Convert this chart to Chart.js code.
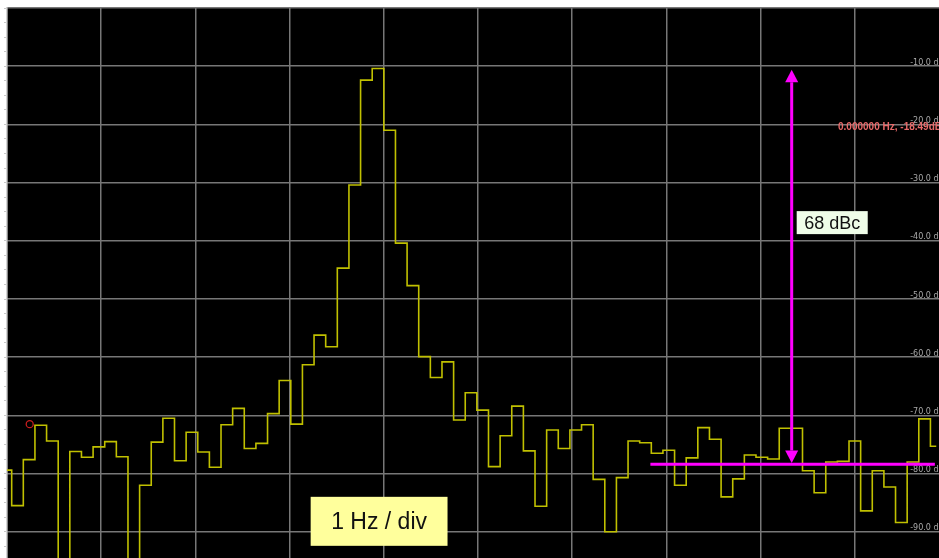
<!DOCTYPE html>
<html>
<head>
<meta charset="utf-8">
<script src="https://cdn.jsdelivr.net/npm/chart.js@4.4.1/dist/chart.umd.min.js"></script>
<style>
  html, body { margin: 0; padding: 0; background: #fff; overflow: hidden; }
  #wrap { position: absolute; left: 0; top: 0; width: 960px; height: 600px; }
</style>
</head>
<body>
<div id="wrap"><canvas id="spec"></canvas></div>
<script>
// spectrum bins: 81 bins across 10 divisions (1 Hz / div), first bin centre just left of the screen
const F_START = -0.012;
const F_STEP = 10 / 81;
const LEVEL_DB = [
  -79.4, -85.5, -77.6, -71.7, -74.4, -99.0, -76.2, -77.2, -75.4, -74.5,
  -77.1, -99.0, -82.0, -74.6, -70.5, -77.8, -72.9, -76.3, -78.9, -71.6,
  -68.8, -75.7, -74.8, -69.7, -64.0, -71.5, -61.3, -56.2, -58.2, -44.7,
  -30.4, -12.4, -10.4, -21.0, -40.4, -47.7, -59.9, -63.5, -60.8, -70.8,
  -66.1, -69.1, -78.8, -73.5, -68.4, -76.1, -85.6, -72.5, -75.7, -72.5,
  -71.6, -81.0, -90.0, -80.7, -74.4, -74.7, -76.5, -76.0, -82.0, -77.3,
  -72.1, -74.1, -84.0, -80.9, -76.8, -77.2, -77.5, -72.2, -72.2, -79.5,
  -83.3, -78.0, -77.9, -74.4, -86.4, -79.5, -82.3, -88.4, -78.0, -70.6,
  -75.3,
];
const Y_TICKS = [-10, -20, -30, -40, -50, -60, -70, -80, -90];

// marker + annotations (chart units: div = Hz, dB)
const MARKER = [{ x: 0.241, y: -71.5 }];
const MARKER_TEXT = '0.000000 Hz, -18.49dB';
const MARKER_TEXT_AT = { x: 8.822, y: -20.5 };
const ARROW_HZ = 8.33, ARROW_TOP_DB = -10.6, ARROW_BOTTOM_DB = -78.2;
const REF_DB = -78.4, REF_FROM_HZ = 6.83, REF_TO_HZ = 9.85;
const DELTA_LABEL = '68 dBc', DELTA_LABEL_DB = -34.9;
const SPAN_LABEL = '1 Hz / div', SPAN_LABEL_AT = { x: 3.95, y: -88.2 };

const trace = LEVEL_DB.map((v, i) => ({ x: F_START + i * F_STEP, y: v }));

const blackBg = {
  id: 'blackBg',
  beforeDraw(chart) {
    const { ctx, chartArea: a } = chart;
    ctx.save();
    ctx.fillStyle = '#000';
    ctx.fillRect(a.left, a.top, a.right - a.left, a.bottom - a.top);
    ctx.restore();
  },
};

// level labels sit just above each grid line, inside the plot at the right
const levelLabels = {
  id: 'levelLabels',
  beforeDatasetsDraw(chart) {
    const { ctx, chartArea: a, scales: { y } } = chart;
    ctx.save();
    ctx.font = '8px "DejaVu Sans"';
    ctx.fillStyle = '#a8a8a8';
    ctx.textAlign = 'right'; ctx.textBaseline = 'alphabetic';
    for (const v of Y_TICKS) ctx.fillText(v.toFixed(1) + ' dB', a.right - 5, y.getPixelForValue(v) - 1.5);
    ctx.restore();
  },
};

const overlay = {
  id: 'overlay',
  afterDraw(chart) {
    const { ctx, scales: { x, y } } = chart;
    ctx.save();
    // marker readout
    ctx.font = 'bold 10px "Liberation Sans", Arial';
    ctx.fillStyle = '#e86a6a';
    ctx.textAlign = 'left'; ctx.textBaseline = 'middle';
    ctx.fillText(MARKER_TEXT, x.getPixelForValue(MARKER_TEXT_AT.x), y.getPixelForValue(MARKER_TEXT_AT.y));

    // reference level line
    ctx.strokeStyle = '#ff00ff'; ctx.fillStyle = '#ff00ff'; ctx.lineWidth = 3;
    const ry = y.getPixelForValue(REF_DB);
    ctx.beginPath();
    ctx.moveTo(x.getPixelForValue(REF_FROM_HZ), ry);
    ctx.lineTo(x.getPixelForValue(REF_TO_HZ), ry);
    ctx.stroke();

    // double arrow
    const ax = x.getPixelForValue(ARROW_HZ);
    const t = y.getPixelForValue(ARROW_TOP_DB), b = y.getPixelForValue(ARROW_BOTTOM_DB);
    const hl = 12.5, hw = 6.5;
    ctx.beginPath(); ctx.moveTo(ax, t + hl); ctx.lineTo(ax, b - hl); ctx.stroke();
    for (const [tip, dir] of [[t, 1], [b, -1]]) {
      ctx.beginPath();
      ctx.moveTo(ax, tip);
      ctx.lineTo(ax - hw, tip + dir * hl);
      ctx.lineTo(ax + hw, tip + dir * hl);
      ctx.closePath(); ctx.fill();
    }

    // 68 dBc label
    ctx.font = '18px "Liberation Sans", Arial';
    let w = ctx.measureText(DELTA_LABEL).width;
    const bx = ax + 5, by = y.getPixelForValue(DELTA_LABEL_DB);
    ctx.fillStyle = '#effde8';
    ctx.fillRect(bx, by, w + 15, 23);
    ctx.fillStyle = '#111';
    ctx.textAlign = 'left'; ctx.textBaseline = 'middle';
    ctx.fillText(DELTA_LABEL, bx + 7.5, by + 12.5);

    // 1 Hz / div label
    ctx.font = '23px "Liberation Sans", Arial';
    w = ctx.measureText(SPAN_LABEL).width;
    const cx = x.getPixelForValue(SPAN_LABEL_AT.x), cy = y.getPixelForValue(SPAN_LABEL_AT.y);
    ctx.fillStyle = '#ffff9c';
    ctx.fillRect(cx - w / 2 - 20.5, cy - 24.5, w + 41, 49);
    ctx.fillStyle = '#111';
    ctx.textAlign = 'center';
    ctx.fillText(SPAN_LABEL, cx, cy + 1.5);
    ctx.restore();
  },
};

const GRID = '#777';
new Chart(document.getElementById('spec'), {
  type: 'line',
  data: {
    datasets: [
      { data: trace, borderColor: '#c0c000', borderWidth: 1.6, pointRadius: 0, stepped: 'middle', tension: 0 },
      { type: 'scatter', data: MARKER, pointRadius: 3.5, borderColor: '#c81e1e', borderWidth: 1.3,
        backgroundColor: 'rgba(0,0,0,0)' },
    ],
  },
  options: {
    animation: false, responsive: true, maintainAspectRatio: false,
    layout: { padding: { left: 4, top: 8, right: 11, bottom: 10 } },
    plugins: { legend: { display: false }, tooltip: { enabled: false } },
    scales: {
      x: { type: 'linear', min: 0, max: 10, ticks: { display: false, stepSize: 1 },
        grid: { color: GRID, lineWidth: 1.5, drawTicks: false }, border: { display: false } },
      y: { position: 'right', min: -100, max: 0, ticks: { display: false, stepSize: 10 },
        grid: { color: GRID, lineWidth: 1.5, drawTicks: false }, border: { display: false } },
      y2: { position: 'left', min: -100, max: 0, ticks: { display: false, stepSize: 2.5 },
        grid: { drawOnChartArea: false, tickLength: 3, color: '#c8c8c8' },
        border: { color: '#d4d4d4', width: 1.5 } },
    },
  },
  plugins: [blackBg, levelLabels, overlay],
});
</script>
</body>
</html>
